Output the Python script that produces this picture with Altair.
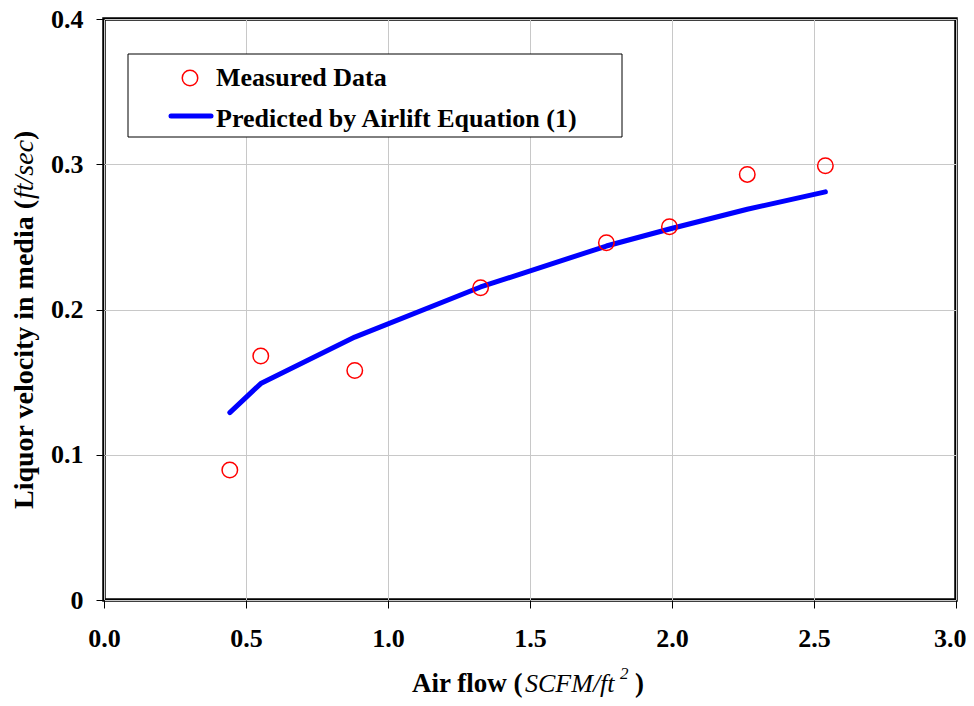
import altair as alt
import pandas as pd

# ---- data ----
air_flow = [0.443, 0.552, 0.883, 1.326, 1.769, 1.991, 2.265, 2.540]
measured = [0.0895, 0.168, 0.158, 0.215, 0.246, 0.257, 0.293, 0.299]
predicted = [0.129, 0.149, 0.181, 0.2155, 0.2437, 0.2554, 0.269, 0.281]
x_ticks = [0.0, 0.5, 1.0, 1.5, 2.0, 2.5, 3.0]
y_ticks = [0.0, 0.1, 0.2, 0.3, 0.4]
legend_labels = ["Measured Data", "Predicted by Airlift Equation (1)"]

df = pd.DataFrame({"air_flow": air_flow, "measured": measured, "predicted": predicted})

FONT = "Liberation Serif"
W, H = 852, 581

x_scale = alt.Scale(domain=[0, 3], nice=False)
y_scale = alt.Scale(domain=[0, 0.4], nice=False)

x_axis = alt.Axis(
    values=x_ticks, format=".1f", title=None, labelPadding=17, labelFlush=False,
    labelAlign={"condition": {"test": "datum.value >= 3", "value": "right"}, "value": "center"},
    labelOffset={"condition": {"test": "datum.value >= 3", "value": 10}, "value": 0},
)
y_axis = alt.Axis(values=y_ticks, title=None, labelPadding=13, labelFlush=False,
                  labelExpr="datum.value == 0 ? '0' : format(datum.value, '.1f')")

line = alt.Chart(df).mark_line(color="#0000ff", strokeWidth=5, strokeCap="round",
                               strokeJoin="round").encode(
    x=alt.X("air_flow:Q", scale=x_scale, axis=x_axis),
    y=alt.Y("predicted:Q", scale=y_scale, axis=y_axis),
)

points = alt.Chart(df).mark_point(shape="circle", filled=False, color="#ff0000",
                                  strokeWidth=1.5, size=240, opacity=1).encode(
    x=alt.X("air_flow:Q", scale=x_scale),
    y=alt.Y("measured:Q", scale=y_scale),
)

one = pd.DataFrame({"k": [0]})

# legend box
leg_box = alt.Chart(one).mark_rect(fill="white", stroke="black", strokeWidth=1).encode(
    x=alt.value(24), x2=alt.value(518), y=alt.value(35), y2=alt.value(118))
leg_pt = alt.Chart(one).mark_point(shape="circle", filled=False, color="#ff0000",
                                   strokeWidth=1.5, size=240, opacity=1).encode(
    x=alt.value(86), y=alt.value(59))
leg_line = alt.Chart(one).mark_rule(color="#0000ff", strokeWidth=5, strokeCap="round").encode(
    x=alt.value(67), x2=alt.value(107), y=alt.value(97))


def txt(s, x, y, size=26, weight="bold", style="normal", angle=0):
    return alt.Chart(pd.DataFrame({"t": [s]})).mark_text(
        font=FONT, fontSize=size, fontWeight=weight, fontStyle=style, color="black",
        align="left", baseline="alphabetic", angle=angle).encode(
        text="t:N", x=alt.value(x), y=alt.value(y))


leg_t1 = txt(legend_labels[0], 112, 67)
leg_t2 = txt(legend_labels[1], 112, 108)

# x-axis title pieces
xt1 = txt("Air flow (", 308, 673, size=27)
xt2 = txt("SCFM/ft", 421, 673, size=26, weight="normal", style="italic")
xt3 = txt("2", 516, 660, size=17, weight="normal", style="italic")
xt4 = txt(")", 531, 673, size=27)

# y-axis title pieces (rotated)
yt1 = txt("Liquor velocity in media (", -71, 490, size=28, angle=270)
yt2 = txt("ft/sec", -71, 180, size=28, weight="normal", style="italic", angle=270)
yt3 = txt(" )", -71, 121, size=28, angle=270)

chart = alt.layer(
    line, points, leg_box, leg_pt, leg_line, leg_t1, leg_t2,
    xt1, xt2, xt3, xt4, yt1, yt2, yt3
).properties(
    width=W, height=H,
    autosize=alt.AutoSizeParams(type="none"),
    padding={"left": 96, "top": 11, "right": 10, "bottom": 98},
).configure_view(
    stroke="black", strokeWidth=3.5
).configure_axis(
    grid=True, gridColor="#c8c8c8", gridWidth=1,
    domain=False, tickColor="black", tickSize=8, tickWidth=1,
    labelFont=FONT, labelFontSize=26, labelFontWeight="bold", labelColor="black",
)

chart.save("out.html", embed_options={"renderer": "svg", "actions": False})
